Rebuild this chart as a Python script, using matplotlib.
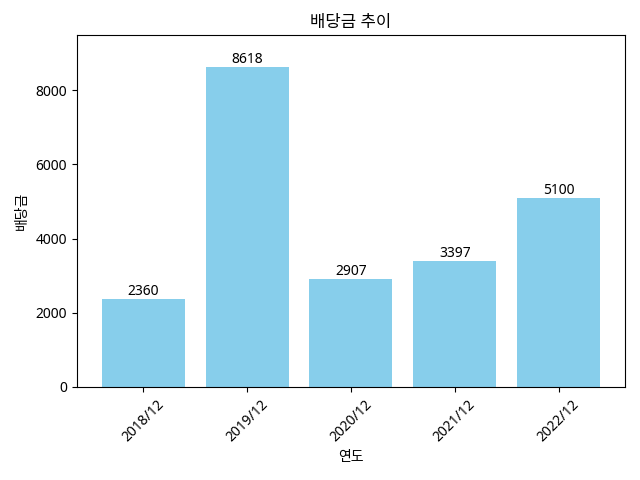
import matplotlib
matplotlib.use('Agg')
import matplotlib.pyplot as plt

plt.rcParams['font.family'] = ['Noto Sans', 'Noto Sans CJK KR', 'DejaVu Sans']

years = ['2018/12', '2019/12', '2020/12', '2021/12', '2022/12']
dividends = [2360, 8618, 2907, 3397, 5100]

fig, ax = plt.subplots(figsize=(6.4, 4.8), dpi=100)
bars = ax.bar(years, dividends, color='skyblue')
for bar, v in zip(bars, dividends):
    ax.text(bar.get_x() + bar.get_width() / 2, bar.get_height(), str(v),
            ha='center', va='bottom')
ax.set_ylim(0, max(dividends) * 1.1)
ax.set_title('배당금 추이')
ax.set_xlabel('연도')
ax.set_ylabel('배당금')
plt.xticks(rotation=45)
plt.tight_layout()
plt.savefig('out.png')
